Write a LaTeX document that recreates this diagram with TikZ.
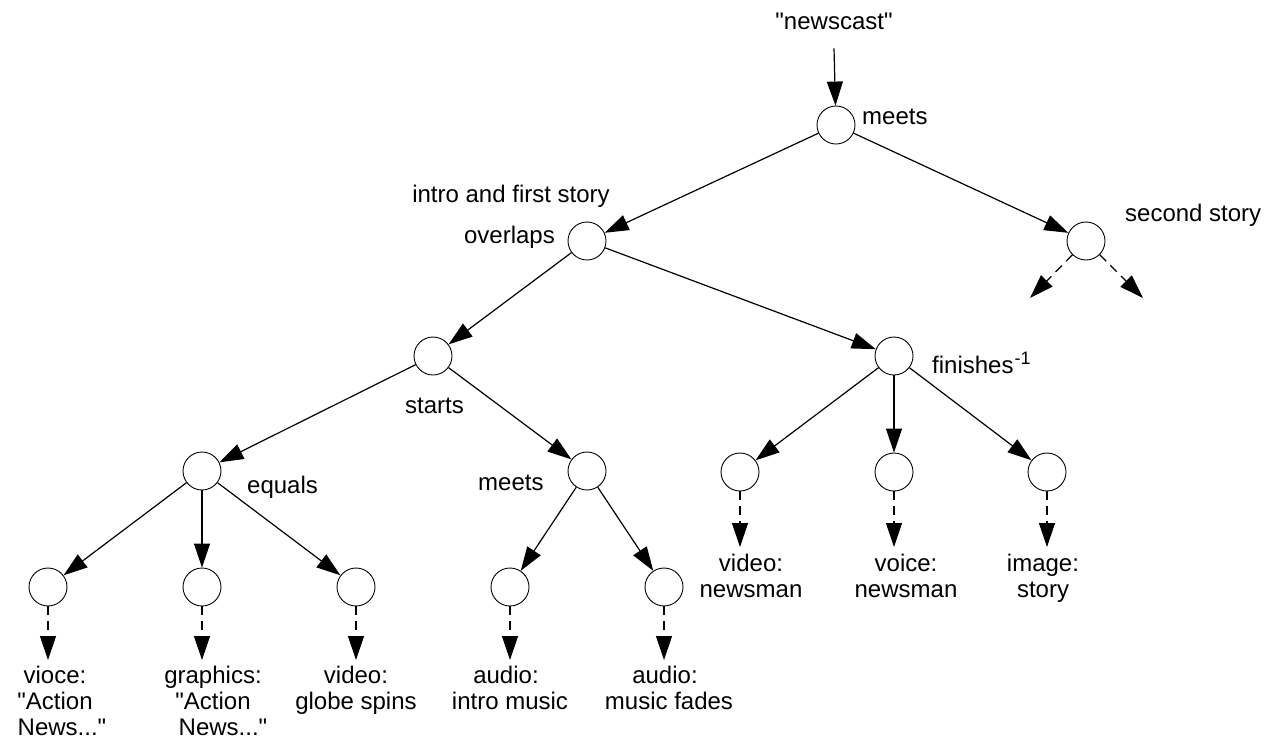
\documentclass[tikz,border=0pt]{standalone}
\usepackage{fontspec}
\setmainfont{Liberation Sans}[Ligatures=TeXOff]
\usetikzlibrary{arrows.meta}
\begin{document}
\begin{tikzpicture}[x=1pt,y=-1pt,
  every node/.style={font=\fontsize{24}{27}\selectfont},
  circ/.style={circle,draw,line width=0.9pt,minimum size=38pt,inner sep=0pt},
  lbl/.style={inner sep=0pt},
  leaf/.style={anchor=north,align=center,inner sep=0pt,font=\fontsize{24}{26}\selectfont},
  arr/.style={line width=1.2pt,-{Triangle[length=24pt,width=16pt]}},
  darr/.style={arr,dash pattern=on 9pt off 6pt},
  dleaf/.style={darr,shorten >=5.5pt}]
\useasboundingbox (0,0) rectangle (1270,740);
% circles
\node[circ] (root) at (836,125) {};
\node[circ] (intro) at (587,241) {};
\node[circ] (second) at (1086,241) {};
\node[circ] (sts) at (433,356) {};
\node[circ] (fin) at (894,356) {};
\node[circ] (eq) at (202,471) {};
\node[circ] (mt) at (587,471) {};
\node[circ] (f1) at (740,472) {};
\node[circ] (f2) at (894,472) {};
\node[circ] (f3) at (1047,472) {};
\node[circ] (e1) at (48,587) {};
\node[circ] (e2) at (202,587) {};
\node[circ] (e3) at (356,587) {};
\node[circ] (m1) at (510,587) {};
\node[circ] (m2) at (664,587) {};
% labels
\node[lbl,anchor=base] (news) at (834,29) {"newscast"};
\node[lbl,anchor=base west] (lmeets) at (862,124) {meets};
\node[lbl,anchor=base] (lintro) at (511,202) {intro and first story};
\node[lbl,anchor=base east] (lover) at (555,243) {overlaps};
\node[lbl,anchor=base west] (lsecond) at (1125,221) {second story};
\node[lbl,anchor=base west] (lstarts) at (405,413) {starts};
\node[lbl,anchor=base west] (lmeets2) at (478,490) {meets};
\node[lbl,anchor=base west] (lequals) at (247,493) {equals};
\node[lbl,anchor=base west] (lfin) at (932,373) {finishes\hspace{1pt}\raisebox{9pt}{\fontsize{18}{18}\selectfont -1}};
% leaf texts
\node[leaf] (t1) at (55,665.5) {vioce:\\"Action\hspace*{14pt}\\\hspace*{14pt}News..."};
\node[leaf] (t2) at (213,665.5) {graphics:\\"Action\hspace*{10pt}\\\hspace*{20pt}News..."};
\node[leaf] (t3) at (356,665.5) {video:\\globe spins};
\node[leaf] (t4) at (510,665.5) {audio:\hspace*{8pt}\\intro music};
\node[leaf] (t5) at (669,665.5) {audio:\hspace*{8pt}\\music fades};
\node[leaf] (t6) at (751,553.5) {video:\\newsman};
\node[leaf] (t7) at (906,553.5) {voice:\\newsman};
\node[leaf] (t8) at (1043,553.5) {image:\\story};
% dangling ends for second story
\coordinate (s1) at (1030,298);
\coordinate (s2) at (1143,298);
% connectors
\draw[arr] (news.south) ++(0,19) -- (root);
\draw[arr] (root) -- (intro);
\draw[arr] (root) -- (second);
\draw[arr] (intro) -- (sts);
\draw[arr] (intro) -- (fin);
\draw[arr] (sts) -- (eq);
\draw[arr] (sts) -- (mt);
\draw[arr] (fin) -- (f1);
\draw[arr] (fin) -- (f2);
\draw[arr] (fin) -- (f3);
\draw[arr] (eq) -- (e1);
\draw[arr] (eq) -- (e2);
\draw[arr] (eq) -- (e3);
\draw[arr] (mt) -- (m1);
\draw[arr] (mt) -- (m2);
\draw[darr] (second) -- (s1);
\draw[darr] (second) -- (s2);
\draw[dleaf] (e1.south) -- (e1.south |- t1.north);
\draw[dleaf] (e2.south) -- (e2.south |- t2.north);
\draw[dleaf] (e3.south) -- (e3.south |- t3.north);
\draw[dleaf] (m1.south) -- (m1.south |- t4.north);
\draw[dleaf] (m2.south) -- (m2.south |- t5.north);
\draw[dleaf,shorten >=6.5pt] (f1.south) -- (f1.south |- t6.north);
\draw[dleaf,shorten >=6.5pt] (f2.south) -- (f2.south |- t7.north);
\draw[dleaf,shorten >=6.5pt] (f3.south) -- (f3.south |- t8.north);
\end{tikzpicture}
\end{document}
